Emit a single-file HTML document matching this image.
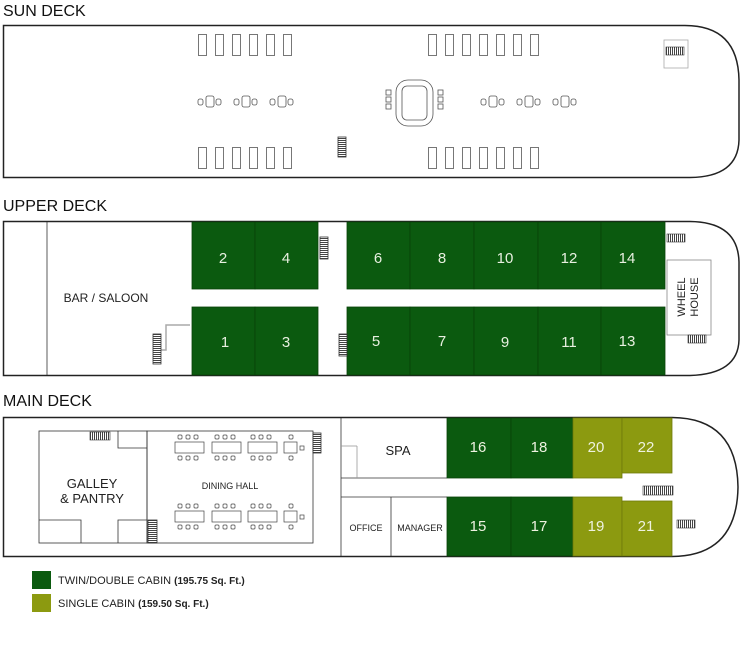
<!DOCTYPE html>
<html><head><meta charset="utf-8"><style>
html,body{margin:0;padding:0;background:#fff;}
svg{display:block;font-family:"Liberation Sans",sans-serif;}
</style></head><body>
<svg width="743" height="661" viewBox="0 0 743 661" xmlns="http://www.w3.org/2000/svg">
<defs>
<pattern id="st" width="2" height="4" patternUnits="userSpaceOnUse"><rect width="2" height="4" fill="#fff"/><rect width="1" height="4" fill="#444"/></pattern>
<pattern id="sth" width="4" height="2" patternUnits="userSpaceOnUse"><rect width="4" height="2" fill="#fff"/><rect width="4" height="1" fill="#444"/></pattern>
</defs>
<g fill="#111" font-size="16">
<text x="3" y="16">SUN DECK</text>
<text x="3" y="211">UPPER DECK</text>
<text x="3" y="406">MAIN DECK</text>
</g>
<!-- SUN DECK -->
<path d="M3.5,25.5 H684 Q738,25 739,80 V140 Q738,177 690,177.5 H3.5 Z" fill="#fff" stroke="#222" stroke-width="1.5"/>
<g fill="#fff" stroke="#555" stroke-width="0.8">
<rect x="198.5" y="34.5" width="8" height="21"/><rect x="215.5" y="34.5" width="8" height="21"/><rect x="232.5" y="34.5" width="8" height="21"/><rect x="249.5" y="34.5" width="8" height="21"/><rect x="266.5" y="34.5" width="8" height="21"/><rect x="283.5" y="34.5" width="8" height="21"/>
<rect x="198.5" y="147.5" width="8" height="21"/><rect x="215.5" y="147.5" width="8" height="21"/><rect x="232.5" y="147.5" width="8" height="21"/><rect x="249.5" y="147.5" width="8" height="21"/><rect x="266.5" y="147.5" width="8" height="21"/><rect x="283.5" y="147.5" width="8" height="21"/>
<rect x="428.5" y="34.5" width="8" height="21"/><rect x="445.5" y="34.5" width="8" height="21"/><rect x="462.5" y="34.5" width="8" height="21"/><rect x="479.5" y="34.5" width="8" height="21"/><rect x="496.5" y="34.5" width="8" height="21"/><rect x="513.5" y="34.5" width="8" height="21"/><rect x="530.5" y="34.5" width="8" height="21"/>
<rect x="428.5" y="147.5" width="8" height="21"/><rect x="445.5" y="147.5" width="8" height="21"/><rect x="462.5" y="147.5" width="8" height="21"/><rect x="479.5" y="147.5" width="8" height="21"/><rect x="496.5" y="147.5" width="8" height="21"/><rect x="513.5" y="147.5" width="8" height="21"/><rect x="530.5" y="147.5" width="8" height="21"/>
<!-- tables -->
<rect x="198" y="99" width="5" height="6" rx="2"/><rect x="206" y="96" width="8" height="11" rx="2"/><rect x="216" y="99" width="5" height="6" rx="2"/>
<rect x="234" y="99" width="5" height="6" rx="2"/><rect x="242" y="96" width="8" height="11" rx="2"/><rect x="252" y="99" width="5" height="6" rx="2"/>
<rect x="270" y="99" width="5" height="6" rx="2"/><rect x="278" y="96" width="8" height="11" rx="2"/><rect x="288" y="99" width="5" height="6" rx="2"/>
<rect x="481" y="99" width="5" height="6" rx="2"/><rect x="489" y="96" width="8" height="11" rx="2"/><rect x="499" y="99" width="5" height="6" rx="2"/>
<rect x="517" y="99" width="5" height="6" rx="2"/><rect x="525" y="96" width="8" height="11" rx="2"/><rect x="535" y="99" width="5" height="6" rx="2"/>
<rect x="553" y="99" width="5" height="6" rx="2"/><rect x="561" y="96" width="8" height="11" rx="2"/><rect x="571" y="99" width="5" height="6" rx="2"/>
<!-- pool -->
<rect x="396" y="80" width="37" height="46" rx="12"/><rect x="402" y="86" width="25" height="34" rx="5"/>
<rect x="386" y="90" width="5" height="5"/><rect x="386" y="97" width="5" height="5"/><rect x="386" y="104" width="5" height="5"/>
<rect x="438" y="90" width="5" height="5"/><rect x="438" y="97" width="5" height="5"/><rect x="438" y="104" width="5" height="5"/>
<rect x="664" y="40" width="24" height="28" stroke="#aaa"/>
</g>
<rect x="338" y="137" width="8" height="20" fill="url(#sth)" stroke="#333" stroke-width="0.8"/>
<rect x="666" y="47" width="18" height="8" fill="url(#st)" stroke="#333" stroke-width="0.6"/>

<!-- UPPER DECK -->
<path d="M3.5,221.5 H690 Q738,222 739,262 V340 Q738,374 690,375.5 H3.5 Z" fill="#fff" stroke="#222" stroke-width="1.5"/>
<line x1="47" y1="222" x2="47" y2="375" stroke="#333" stroke-width="0.8"/>
<g fill="#0b5a0f" stroke="#084208" stroke-width="0.8">
<rect x="192" y="222" width="63" height="67"/><rect x="255" y="222" width="63" height="67"/>
<rect x="347" y="222" width="63" height="67"/><rect x="410" y="222" width="64" height="67"/><rect x="474" y="222" width="64" height="67"/><rect x="538" y="222" width="63" height="67"/><rect x="601" y="222" width="64" height="67"/>
<rect x="192" y="307" width="63" height="68"/><rect x="255" y="307" width="63" height="68"/>
<rect x="347" y="307" width="63" height="68"/><rect x="410" y="307" width="64" height="68"/><rect x="474" y="307" width="64" height="68"/><rect x="538" y="307" width="63" height="68"/><rect x="601" y="307" width="64" height="68"/>
</g>
<g fill="#e8f0e0" font-size="15" text-anchor="middle">
<text x="223" y="263">2</text><text x="286" y="263">4</text><text x="378" y="263">6</text><text x="442" y="263">8</text><text x="505" y="263">10</text><text x="569" y="263">12</text><text x="627" y="263">14</text>
<text x="225" y="347">1</text><text x="286" y="347">3</text><text x="376" y="346">5</text><text x="442" y="346">7</text><text x="505" y="347">9</text><text x="569" y="347">11</text><text x="627" y="346">13</text>
</g>
<text x="106" y="302" font-size="12" fill="#222" text-anchor="middle">BAR / SALOON</text>
<rect x="667" y="260" width="44" height="75" fill="#fff" stroke="#888" stroke-width="0.8"/>
<text transform="translate(685,297) rotate(-90)" font-size="11" fill="#222" text-anchor="middle">WHEEL</text>
<text transform="translate(698,297) rotate(-90)" font-size="11" fill="#222" text-anchor="middle">HOUSE</text>
<polyline points="160,350 166,350 166,325 190,325" fill="none" stroke="#aaa" stroke-width="1.5"/>
<rect x="153" y="334" width="8" height="30" fill="url(#sth)" stroke="#333" stroke-width="0.8"/>
<rect x="320" y="237" width="8" height="22" fill="url(#sth)" stroke="#333" stroke-width="0.8"/>
<rect x="339" y="334" width="8" height="22" fill="url(#sth)" stroke="#333" stroke-width="0.8"/>
<rect x="667" y="234" width="18" height="8" fill="url(#st)" stroke="#333" stroke-width="0.6"/>
<rect x="688" y="335" width="18" height="8" fill="url(#st)" stroke="#333" stroke-width="0.6"/>

<!-- MAIN DECK -->
<path d="M3.5,417.5 H672 Q737,418 738,487 Q737,556 672,556.5 H3.5 Z" fill="#fff" stroke="#222" stroke-width="1.5"/>
<line x1="341" y1="418" x2="341" y2="556" stroke="#333" stroke-width="0.8"/>
<g fill="none" stroke="#333" stroke-width="0.8">
<rect x="39" y="431" width="108" height="112"/><rect x="147" y="431" width="166" height="112"/>
<polyline points="118,431 118,448 147,448"/>
<polyline points="39,520 81,520 81,543"/><polyline points="118,543 118,520 147,520"/>
<line x1="341" y1="478" x2="447" y2="478"/><line x1="341" y1="497" x2="447" y2="497"/>
<line x1="391" y1="497" x2="391" y2="556"/>
<line x1="341" y1="446" x2="357" y2="446" stroke="#999"/><line x1="357" y1="446" x2="357" y2="478" stroke="#999"/>
</g>
<g fill="#fff" stroke="#444" stroke-width="0.7">
<rect x="175" y="442" width="29" height="11"/><rect x="212" y="442" width="29" height="11"/><rect x="248" y="442" width="29" height="11"/><rect x="284" y="442" width="13" height="11"/>
<rect x="175" y="511" width="29" height="11"/><rect x="212" y="511" width="29" height="11"/><rect x="248" y="511" width="29" height="11"/><rect x="284" y="511" width="13" height="11"/>
<rect x="300" y="446" width="4" height="4"/><rect x="300" y="515" width="4" height="4"/>
</g>
<g fill="#fff" stroke="#444" stroke-width="0.7">
<rect x="178" y="435" width="4" height="4" rx="1"/><rect x="186" y="435" width="4" height="4" rx="1"/><rect x="194" y="435" width="4" height="4" rx="1"/>
<rect x="215" y="435" width="4" height="4" rx="1"/><rect x="223" y="435" width="4" height="4" rx="1"/><rect x="231" y="435" width="4" height="4" rx="1"/>
<rect x="251" y="435" width="4" height="4" rx="1"/><rect x="259" y="435" width="4" height="4" rx="1"/><rect x="267" y="435" width="4" height="4" rx="1"/><rect x="289" y="435" width="4" height="4" rx="1"/>
<rect x="178" y="456" width="4" height="4" rx="1"/><rect x="186" y="456" width="4" height="4" rx="1"/><rect x="194" y="456" width="4" height="4" rx="1"/>
<rect x="215" y="456" width="4" height="4" rx="1"/><rect x="223" y="456" width="4" height="4" rx="1"/><rect x="231" y="456" width="4" height="4" rx="1"/>
<rect x="251" y="456" width="4" height="4" rx="1"/><rect x="259" y="456" width="4" height="4" rx="1"/><rect x="267" y="456" width="4" height="4" rx="1"/><rect x="289" y="456" width="4" height="4" rx="1"/>
<rect x="178" y="504" width="4" height="4" rx="1"/><rect x="186" y="504" width="4" height="4" rx="1"/><rect x="194" y="504" width="4" height="4" rx="1"/>
<rect x="215" y="504" width="4" height="4" rx="1"/><rect x="223" y="504" width="4" height="4" rx="1"/><rect x="231" y="504" width="4" height="4" rx="1"/>
<rect x="251" y="504" width="4" height="4" rx="1"/><rect x="259" y="504" width="4" height="4" rx="1"/><rect x="267" y="504" width="4" height="4" rx="1"/><rect x="289" y="504" width="4" height="4" rx="1"/>
<rect x="178" y="525" width="4" height="4" rx="1"/><rect x="186" y="525" width="4" height="4" rx="1"/><rect x="194" y="525" width="4" height="4" rx="1"/>
<rect x="215" y="525" width="4" height="4" rx="1"/><rect x="223" y="525" width="4" height="4" rx="1"/><rect x="231" y="525" width="4" height="4" rx="1"/>
<rect x="251" y="525" width="4" height="4" rx="1"/><rect x="259" y="525" width="4" height="4" rx="1"/><rect x="267" y="525" width="4" height="4" rx="1"/><rect x="289" y="525" width="4" height="4" rx="1"/>
</g>
<rect x="90" y="432" width="20" height="8" fill="url(#st)" stroke="#333" stroke-width="0.6"/>
<rect x="313" y="433" width="8" height="20" fill="url(#sth)" stroke="#333" stroke-width="0.8"/>
<rect x="148" y="520" width="9" height="23" fill="url(#sth)" stroke="#333" stroke-width="0.8"/>
<g fill="#0b5a0f" stroke="#084208" stroke-width="0.8">
<rect x="447" y="418" width="64" height="60"/><rect x="511" y="418" width="62" height="60"/>
<rect x="447" y="497" width="64" height="59"/><rect x="511" y="497" width="62" height="59"/>
</g>
<g fill="#8c9a10" stroke="#6e7a0a" stroke-width="0.8">
<rect x="573" y="418" width="49" height="60"/><rect x="622" y="418" width="50" height="55"/>
<rect x="573" y="497" width="49" height="59"/><rect x="622" y="501" width="50" height="55"/>
</g>
<g fill="#eef2e0" font-size="15" text-anchor="middle">
<text x="478" y="452">16</text><text x="539" y="452">18</text><text x="596" y="452">20</text><text x="646" y="452">22</text>
<text x="478" y="531">15</text><text x="539" y="531">17</text><text x="596" y="531">19</text><text x="646" y="531">21</text>
</g>
<rect x="643" y="486" width="30" height="9" fill="url(#st)" stroke="#333" stroke-width="0.6"/>
<rect x="677" y="520" width="18" height="8" fill="url(#st)" stroke="#333" stroke-width="0.6"/>
<g fill="#222" text-anchor="middle">
<text x="92" y="488" font-size="13">GALLEY</text>
<text x="92" y="503" font-size="13">&amp; PANTRY</text>
<text x="230" y="489" font-size="9">DINING HALL</text>
<text x="398" y="455" font-size="13">SPA</text>
<text x="366" y="531" font-size="9">OFFICE</text>
<text x="420" y="531" font-size="9">MANAGER</text>
</g>
<!-- legend -->
<rect x="32" y="571" width="19" height="18" fill="#0b5a0f"/>
<rect x="32" y="594" width="19" height="18" fill="#8c9a10"/>
<text x="58" y="584" font-size="11" fill="#222">TWIN/DOUBLE CABIN <tspan font-size="10" font-weight="bold">(195.75 Sq. Ft.)</tspan></text>
<text x="58" y="607" font-size="11" fill="#222">SINGLE CABIN <tspan font-size="10" font-weight="bold">(159.50 Sq. Ft.)</tspan></text>
</svg>
</body></html>
